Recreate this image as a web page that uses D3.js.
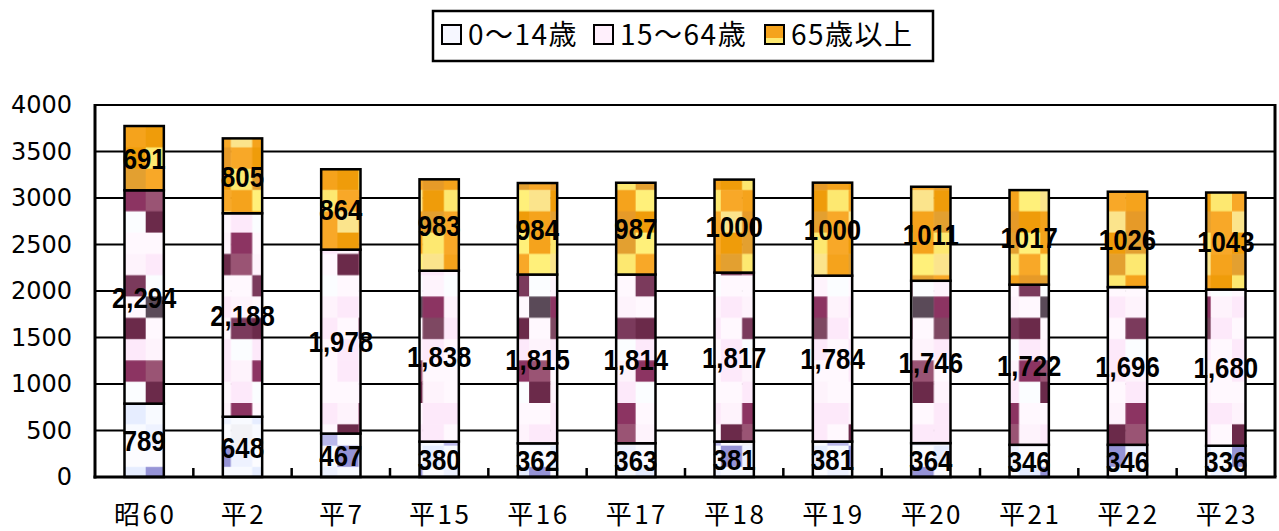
<!DOCTYPE html>
<html>
<head>
<meta charset="utf-8">
<script src="https://cdn.jsdelivr.net/npm/d3@7"></script>
<style>
  html, body { margin: 0; padding: 0; background: #fff; }
  svg { display: block; }
</style>
</head>
<body>
<svg id="chart" width="1279" height="531"></svg>
<script>
// ---- data ----
const categories = ["昭60","平2","平7","平15","平16","平17","平18","平19","平20","平21","平22","平23"];
const age0to14  = [789, 648, 467, 380, 362, 363, 381, 381, 364, 346, 346, 336];
const age15to64 = [2294, 2188, 1978, 1838, 1815, 1814, 1817, 1784, 1746, 1722, 1696, 1680];
const age65plus = [691, 805, 864, 983, 984, 987, 1000, 1000, 1011, 1017, 1026, 1043];
const seriesNames = ["0～14歳", "15～64歳", "65歳以上"];
const yTickValues = [0, 500, 1000, 1500, 2000, 2500, 3000, 3500, 4000];

// ---- styles (mosaic textures) ----
const T = 21.3; // tile size
const textures = [
  { id: "tex0", pal: { w:"#f8faff", x:"#eef2ff", u:"#fcfcff", L:"#a09fda", K:"#9593d6", J:"#b9b7ea", e:"#e6edff", f:"#f2f2f6" },
    rows: ["wLuxwe","xwJufw","uewKxu","Kuxwwe","wfuLxw","ewxuJu","uJwexK","xuwfuw"] },
  { id: "tex1", pal: { a:"#fff8fe", b:"#fde9fa", c:"#fef3fc", d:"#fbfdff", M:"#7b3a5c", N:"#8c3462", O:"#6b2a4a", G:"#5a4a58", P:"#9a5474", Q:"#7e4862" },
    rows: ["abbcNa","bbaOPc","dcdaaM","GNcbca","aQbaMO","cbabdb","PaabcN","Ocaabd"] },
  { id: "tex2", pal: { o:"#f5a31c", p:"#ef9c0a", y:"#fde870", z:"#fff07a", q:"#e3a030", r:"#f8a828", s:"#e69a28", t:"#fbe48c" },
    rows: ["oyrpqz","ztoqyr","qrpyos","pqzrto","yoqsrp","rsopyq","tpyroz","oqrtsp"] }
];

const svg = d3.select("#chart");
const defs = svg.append("defs");
textures.forEach(tx => {
  const cols = tx.rows[0].length, nrows = tx.rows.length;
  const p = defs.append("pattern").attr("id", tx.id)
    .attr("patternUnits", "userSpaceOnUse")
    .attr("x", 145.7).attr("y", 403)
    .attr("width", cols * T).attr("height", nrows * T);
  tx.rows.forEach((row, r) => {
    row.split("").forEach((ch, c) => {
      p.append("rect").attr("x", c * T).attr("y", r * T)
        .attr("width", T + 0.5).attr("height", T + 0.5)
        .attr("fill", tx.pal[ch]);
    });
  });
});

// ---- layout ----
const plot = { left: 95, right: 1275, top: 105, bottom: 477 };

const x = d3.scaleBand().domain(categories).range([plot.left, plot.right]).paddingInner(0).paddingOuter(0);
const y = d3.scaleLinear().domain([0, 4000]).range([plot.bottom, plot.top]);
const barW = x.bandwidth() * 0.4;

// grid lines
svg.append("g").selectAll("line").data(yTickValues).join("line")
  .attr("x1", plot.left).attr("x2", plot.right)
  .attr("y1", d => y(d)).attr("y2", d => y(d))
  .attr("stroke", "#000").attr("stroke-width", 2);

// right border
svg.append("line").attr("x1", plot.right).attr("x2", plot.right)
  .attr("y1", plot.top - 1).attr("y2", plot.bottom)
  .attr("stroke", "#000").attr("stroke-width", 3);

// stacked data
const rows = categories.map((c, i) => ({ cat: c, s0: age0to14[i], s1: age15to64[i], s2: age65plus[i] }));
const stack = d3.stack().keys(["s0", "s1", "s2"]);
const stacked = stack(rows);
const fmts = [d3.format("d"), d3.format(","), d3.format("d")];

const bars = svg.append("g");
stacked.forEach((layer, k) => {
  bars.append("g").selectAll("rect").data(layer).join("rect")
    .attr("x", d => x(d.data.cat) + (x.bandwidth() - barW) / 2)
    .attr("y", d => y(d[1]))
    .attr("width", barW)
    .attr("height", d => y(d[0]) - y(d[1]))
    .attr("fill", `url(#tex${k})`)
    .attr("stroke", "#000").attr("stroke-width", 2.5);
});

// axes
const xAxis = d3.axisBottom(x).tickSize(0).tickFormat(d => d);
const gx = svg.append("g").attr("transform", `translate(0,${plot.bottom})`).call(xAxis);
gx.select(".domain").remove();
gx.selectAll("text")
  .attr("y", 0).attr("dy", 0)
  .attr("transform", "translate(1,47)")
  .attr("font-family", "'Noto Sans CJK JP', sans-serif")
  .attr("font-size", 26).attr("letter-spacing", 2.5)
  .attr("fill", "#000");

// category boundary ticks (inward)
const boundaries = categories.slice(1).map(c => x(c));
svg.append("g").selectAll("line").data(boundaries).join("line")
  .attr("x1", d => d).attr("x2", d => d)
  .attr("y1", plot.bottom).attr("y2", plot.bottom - 9)
  .attr("stroke", "#000").attr("stroke-width", 2.5);

const yAxis = d3.axisLeft(y).tickValues(yTickValues).tickSize(0).tickPadding(23).tickFormat(d3.format("d"));
const gy = svg.append("g").attr("transform", `translate(${plot.left},0)`).call(yAxis);
gy.select(".domain").remove();
gy.selectAll("text")
  .attr("font-family", "'DejaVu Sans', sans-serif")
  .attr("font-size", 24).attr("fill", "#000");

// axis lines
svg.append("line").attr("x1", plot.left).attr("x2", plot.left)
  .attr("y1", plot.top - 1).attr("y2", plot.bottom + 1.5)
  .attr("stroke", "#000").attr("stroke-width", 3);
svg.append("line").attr("x1", plot.left - 1.5).attr("x2", plot.right + 1.5)
  .attr("y1", plot.bottom).attr("y2", plot.bottom)
  .attr("stroke", "#000").attr("stroke-width", 3);

// data labels
const labels = svg.append("g");
stacked.forEach((layer, k) => {
  labels.append("g").selectAll("text").data(layer).join("text")
    .attr("transform", d => `translate(${x(d.data.cat) + x.bandwidth() / 2},${y((d[0] + d[1]) / 2)}) scale(0.86,1)`)
    .attr("dy", "0.36em")
    .attr("text-anchor", "middle")
    .attr("font-family", "'Liberation Sans', Arial, sans-serif")
    .attr("font-weight", "bold")
    .attr("font-size", 30)
    .attr("fill", "#000")
    .text(d => fmts[k](d[1] - d[0]));
});

// legend
const lg = svg.append("g");
lg.append("rect").attr("x", 433).attr("y", 11).attr("width", 500).attr("height", 50)
  .attr("fill", "#fff").attr("stroke", "#000").attr("stroke-width", 2.5);
const legendX = [442, 594, 765];
const swatchFill = ["#f6f7ff", "#fff0fc", "#f5a31c"];
seriesNames.forEach((name, i) => {
  const g = lg.append("g").attr("transform", `translate(${legendX[i]},25)`);
  g.append("rect").attr("width", 19).attr("height", 19)
    .attr("fill", swatchFill[i]).attr("stroke", "#000").attr("stroke-width", 2);
  if (i === 2) {
    g.append("rect").attr("x", 1).attr("y", 13).attr("width", 17).attr("height", 5).attr("fill", "#fde870");
    g.append("rect").attr("width", 19).attr("height", 19).attr("fill", "none").attr("stroke", "#000").attr("stroke-width", 2);
  }
  g.append("text").attr("x", 26).attr("y", 10).attr("dy", "0.36em")
    .attr("font-family", "'Noto Sans CJK JP', sans-serif")
    .attr("font-size", 28).attr("letter-spacing", 1.5)
    .attr("fill", "#000").text(name);
});
</script>
</body>
</html>
